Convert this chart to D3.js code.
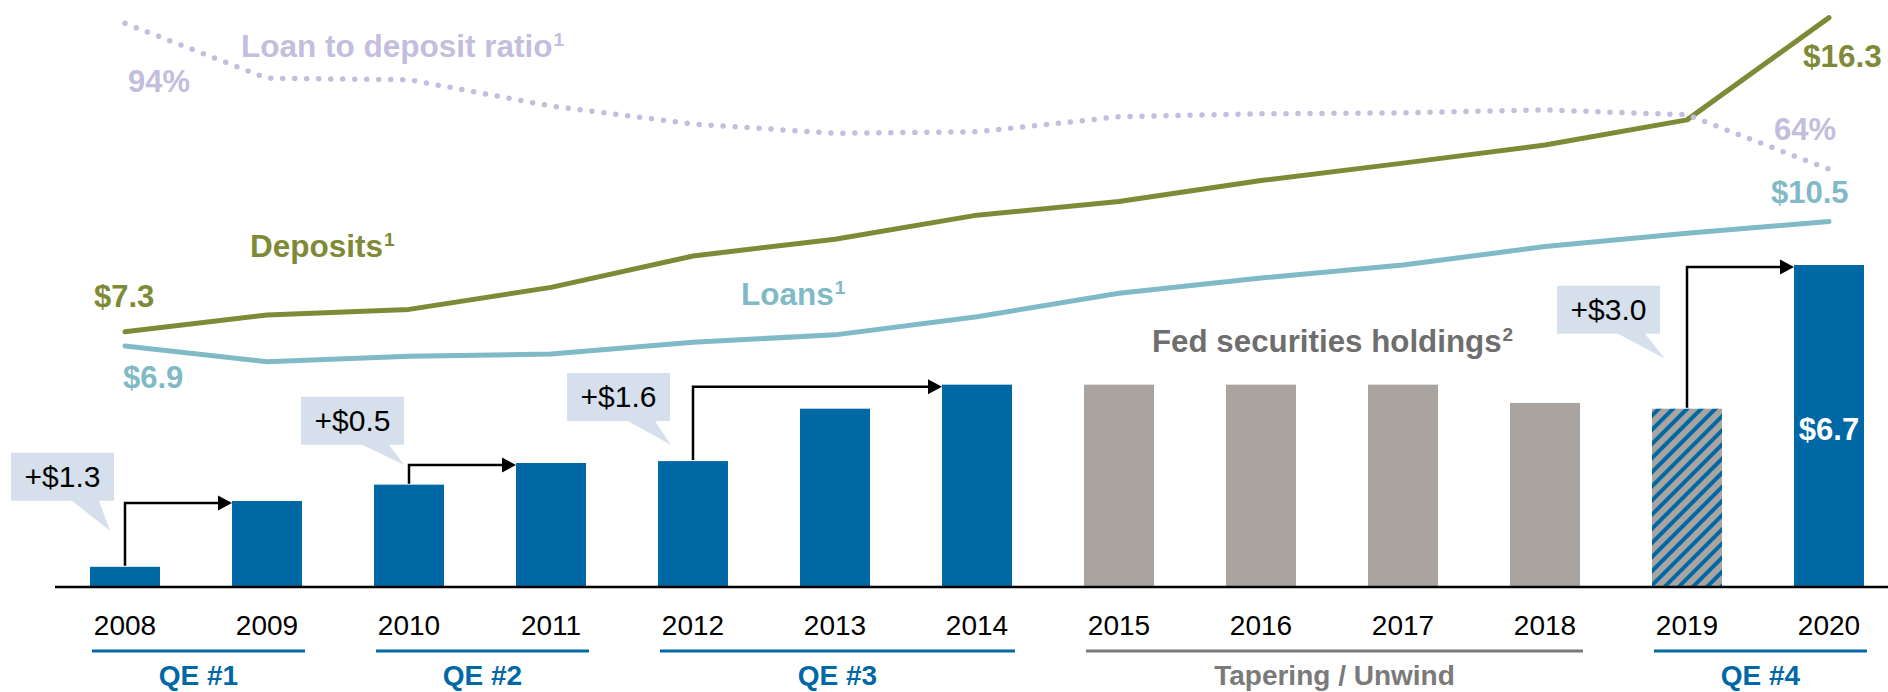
<!DOCTYPE html>
<html><head><meta charset="utf-8">
<script src="https://cdn.jsdelivr.net/npm/d3@7"></script>
<style>
html,body{margin:0;padding:0;background:#fff;}
svg{display:block;font-family:"Liberation Sans",Arial,sans-serif;}
</style>
</head><body>
<svg id="chart" width="1888" height="692"></svg>
<script>
// ---------- data ----------
const years = ["2008","2009","2010","2011","2012","2013","2014","2015","2016","2017","2018","2019","2020"];
const fedHoldings = [0.42, 1.79, 2.13, 2.58, 2.62, 3.71, 4.21, 4.21, 4.21, 4.21, 3.83, 3.71, 6.7];
const barKind = ["qe","qe","qe","qe","qe","qe","qe","taper","taper","taper","taper","mixed","qe"];
const deposits = [7.30, 7.78, 7.94, 8.57, 9.47, 9.95, 10.64, 11.03, 11.63, 12.13, 12.65, 13.37, 16.30];
const loans = [6.89, 6.44, 6.60, 6.66, 7.00, 7.21, 7.73, 8.40, 8.84, 9.21, 9.74, 10.12, 10.46];
const ldr = [94, 82.7, 82.4, 77.0, 73.3, 71.4, 71.7, 74.8, 75.4, 75.6, 76.2, 75.2, 64];
const calloutLabels = ["+$1.3", "+$0.5", "+$1.6", "+$3.0"];
const calloutFrom = ["2008", "2010", "2012", "2019"];
const calloutTo = ["2009", "2011", "2014", "2020"];
const phaseLabels = ["QE #1", "QE #2", "QE #3", "Tapering / Unwind", "QE #4"];
const phaseFrom = ["2008", "2010", "2012", "2015", "2019"];
const phaseTo = ["2009", "2011", "2014", "2018", "2020"];
const phaseKind = ["qe", "qe", "qe", "taper", "qe"];

// ---------- layout / style ----------
const C = {
  blue: "#0068a5", gray: "#a9a4a0", olive: "#7f8a36", teal: "#7fbac6",
  lav: "#c3bedd", box: "#d6e0ec", dark: "#6e6e6e", taper: "#7a7a7a"
};
// callout offsets relative to the "from" bar (center x, top y)
const calloutLayout = [
  {boxRight: -11, boxBottom: -66, tipDx: -15, tipDy: -36},
  {boxRight: -5,  boxBottom: -40, tipDx: -5,  tipDy: -20},
  {boxRight: -23, boxBottom: -40, tipDx: -22, tipDy: -16},
  {boxRight: -27, boxBottom: -75, tipDx: -22, tipDy: -50}
];

const svg = d3.select("#chart");
const barW = 70;
const x = d3.scalePoint().domain(years).range([125, 1829]);
const yBar = d3.scaleLinear().domain([0, 6.7]).range([587, 265]);
const yLine = d3.scaleLinear().domain([0, 16.3]).range([586.5, 17.6]);
const yLdr = d3.scaleLinear().domain([64, 94]).range([169.3, 23.3]);

const defs = svg.append("defs");
const pat = defs.append("pattern").attr("id", "hatch")
  .attr("patternUnits", "userSpaceOnUse").attr("width", 10).attr("height", 10)
  .attr("patternTransform", "rotate(45)");
pat.append("rect").attr("width", 10).attr("height", 10).attr("fill", C.gray);
pat.append("rect").attr("width", 4).attr("height", 10).attr("fill", C.blue);

// ---------- bars ----------
svg.append("g").selectAll("rect").data(years).join("rect")
  .attr("x", d => x(d) - barW / 2)
  .attr("width", barW)
  .attr("y", (d, i) => yBar(fedHoldings[i]))
  .attr("height", (d, i) => yBar(0) - yBar(fedHoldings[i]))
  .attr("fill", (d, i) => barKind[i] === "qe" ? C.blue : barKind[i] === "taper" ? C.gray : "url(#hatch)");

// baseline
svg.append("line").attr("x1", 55).attr("x2", 1888).attr("y1", yBar(0)).attr("y2", yBar(0))
  .attr("stroke", "#000").attr("stroke-width", 2.5);

// ---------- lines ----------
const mk = (scale, arr) => d3.line().x((d, i) => x(years[i])).y(d => scale(d))(arr);
svg.append("path").attr("d", mk(yLine, deposits)).attr("fill", "none")
  .attr("stroke", C.olive).attr("stroke-width", 5).attr("stroke-linejoin", "round").attr("stroke-linecap", "round");
svg.append("path").attr("d", mk(yLine, loans)).attr("fill", "none")
  .attr("stroke", C.teal).attr("stroke-width", 5).attr("stroke-linejoin", "round").attr("stroke-linecap", "round");
svg.append("path").attr("d", mk(yLdr, ldr)).attr("fill", "none")
  .attr("stroke", C.lav).attr("stroke-width", 5.5).attr("stroke-linecap", "round")
  .attr("stroke-dasharray", "0 12");

// ---------- arrows + callouts ----------
const ann = svg.append("g");
calloutLabels.forEach((lab, k) => {
  const fi = years.indexOf(calloutFrom[k]), ti = years.indexOf(calloutTo[k]);
  const x0 = x(calloutFrom[k]), top0 = yBar(fedHoldings[fi]);
  const xt = x(calloutTo[k]) - barW / 2, yt = yBar(fedHoldings[ti]) + 2;
  ann.append("path").attr("d", `M${x0},${top0 - 1}V${yt}H${xt - 12}`)
    .attr("fill", "none").attr("stroke", "#000").attr("stroke-width", 2.5);
  ann.append("path").attr("d", `M${xt - 14},${yt - 7.5}L${xt},${yt}L${xt - 14},${yt + 7.5}Z`).attr("fill", "#000");
  const L = calloutLayout[k];
  const bw = 103, bh = 48;
  const br = x0 + L.boxRight, bb = top0 + L.boxBottom;
  const tipX = x0 + L.tipDx, tipY = top0 + L.tipDy;
  ann.append("path").attr("d",
    `M${br - bw},${bb - bh}H${br}V${bb}H${br - 15}L${tipX},${tipY}L${br - 42},${bb}H${br - bw}Z`)
    .attr("fill", C.box);
  ann.append("text").attr("x", br - bw / 2).attr("y", bb - bh + 34)
    .attr("text-anchor", "middle").attr("font-size", 30).attr("fill", "#000").text(lab);
});

// ---------- series labels ----------
function label(txt, sup, xx, yy, color, size, anchor) {
  const t = svg.append("text").attr("x", xx).attr("y", yy).attr("fill", color)
    .attr("font-size", size).attr("font-weight", "bold").attr("text-anchor", anchor || "start");
  t.append("tspan").text(txt);
  if (sup) t.append("tspan").attr("font-size", 19).attr("dx", 1).attr("dy", -11).text(sup);
  return t;
}
label("Loan to deposit ratio", "1", 241, 57, C.lav, 31.5);
label(d3.format(".0f")(ldr[0]) + "%", null, 128, 92, C.lav, 31);
label(d3.format(".0f")(ldr[ldr.length - 1]) + "%", null, 1774, 140, C.lav, 31);
label("Deposits", "1", 250, 257, C.olive, 31.5);
label("$" + d3.format(".1f")(deposits[0]), null, 94, 307, C.olive, 31);
label("$" + d3.format(".1f")(deposits[deposits.length - 1]), null, 1803, 67, C.olive, 31.5);
label("Loans", "1", 741, 305, C.teal, 31.5);
label("$6.9", null, 123, 388, C.teal, 31);
label("$10.5", null, 1771, 203, C.teal, 31);
label("Fed securities holdings", "2", 1152, 352, C.dark, 31.3);
label("$" + d3.format(".1f")(fedHoldings[fedHoldings.length - 1]), null, x("2020"), 440, "#fff", 31, "middle");

// ---------- x axis labels ----------
svg.append("g").selectAll("text").data(years).join("text")
  .attr("x", d => x(d)).attr("y", 635).attr("text-anchor", "middle")
  .attr("font-size", 28).attr("fill", "#000").text(d => d);

// ---------- phases ----------
phaseLabels.forEach((lab, k) => {
  const a = x(phaseFrom[k]) - barW / 2 + 2, b = x(phaseTo[k]) + barW / 2 + 3;
  const col = phaseKind[k] === "qe" ? C.blue : C.taper;
  svg.append("line").attr("x1", a).attr("x2", b).attr("y1", 651).attr("y2", 651)
    .attr("stroke", col).attr("stroke-width", 3);
  svg.append("text").attr("x", (a + b) / 2).attr("y", 685).attr("text-anchor", "middle")
    .attr("font-size", 28).attr("font-weight", "bold").attr("fill", col).text(lab);
});
</script>
</body></html>
